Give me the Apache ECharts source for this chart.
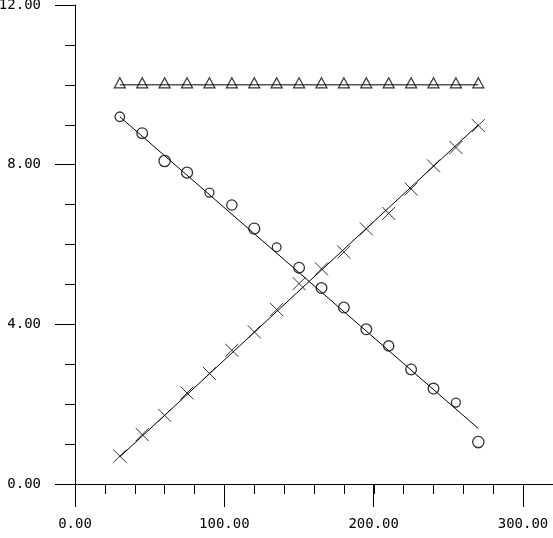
<!DOCTYPE html>
<html>
<head>
<meta charset="utf-8">
<script src="https://cdn.jsdelivr.net/npm/echarts@6/dist/echarts.min.js"></script>
<style>html,body{margin:0;padding:0;background:#fff;}#c{width:553px;height:538px;}</style>
</head>
<body>
<div id="c"></div>
<script>
const xValues = [30,45,60,75,90,105,120,135,150,165,180,195,210,225,240,255,270];
const triangleValues = [10,10,10,10,10,10,10,10,10,10,10,10,10,10,10,10,10];
const circleValues = [9.2,8.79,8.09,7.8,7.3,6.99,6.4,5.93,5.42,4.91,4.42,3.875,3.46,2.87,2.39,2.04,1.05];
const crossValues = [0.70,1.24,1.72,2.28,2.77,3.35,3.81,4.37,5.02,5.39,5.81,6.39,6.78,7.39,7.97,8.43,8.98];
const fitX = [30,270];
const triangleFit = [10,10];
const circleFit = [9.2,1.39];
const crossFit = [0.68,9.0];
const xTickLabels = [0,100,200,300];
const yTickLabels = [0,4,8,12];
const circleMarkerSizes = [9.5,10.7,11.3,11,9,10.3,11,8.7,10.7,10.7,10.7,10.7,10.3,10.7,10.7,9,11.3];

const pairs = (xs, ys) => xs.map((x,i)=>[x, ys[i]]);
const black = '#000';
const font = {fontFamily:'DejaVu Sans Mono', fontSize:14, color:black};
const chart = echarts.init(document.getElementById('c'), null, {renderer:'canvas'});
chart.setOption({
  animation:false,
  backgroundColor:'#fff',
  grid:[
    {left:75, right:0, top:5, bottom:54, containLabel:false, outerBoundsMode:'none'},
    {left:75, right:30, top:5, bottom:54, containLabel:false, outerBoundsMode:'none'}
  ],
  xAxis:[
    {type:'value', gridIndex:0, min:0, max:320, interval:20,
     axisLine:{show:true, onZero:false, lineStyle:{color:black, width:1}},
     axisTick:{show:true, length:10, lineStyle:{color:black, width:1}},
     axisLabel:{show:false}, splitLine:{show:false}},
    {type:'value', gridIndex:1, min:xTickLabels[0], max:xTickLabels[xTickLabels.length-1], interval:100,
     axisLine:{show:false},
     axisTick:{show:true, length:23, lineStyle:{color:black, width:1}},
     axisLabel:Object.assign({show:true, margin:33, formatter:v=>v.toFixed(2)}, font),
     splitLine:{show:false}}
  ],
  yAxis:[
    {type:'value', gridIndex:0, min:0, max:12, interval:1,
     axisLine:{show:true, onZero:false, lineStyle:{color:black, width:1}},
     axisTick:{show:true, length:10, lineStyle:{color:black, width:1}},
     axisLabel:{show:false}, splitLine:{show:false}},
    {type:'value', gridIndex:0, position:'left', min:yTickLabels[0], max:yTickLabels[yTickLabels.length-1], interval:4,
     axisLine:{show:false},
     axisTick:{show:true, length:20, lineStyle:{color:black, width:1}},
     axisLabel:Object.assign({show:true, margin:34, formatter:v=>v.toFixed(2)}, font),
     splitLine:{show:false}},
    {type:'value', gridIndex:1, min:0, max:12, show:false}
  ],
  series:[
    {type:'line', xAxisIndex:0, yAxisIndex:0, data:pairs(fitX, triangleFit), symbol:'none', lineStyle:{color:black, width:1}},
    {type:'line', xAxisIndex:0, yAxisIndex:0, data:pairs(fitX, circleFit), symbol:'none', lineStyle:{color:black, width:1}},
    {type:'line', xAxisIndex:0, yAxisIndex:0, data:pairs(fitX, crossFit), symbol:'none', lineStyle:{color:black, width:1}},
    {type:'scatter', xAxisIndex:0, yAxisIndex:0, data:pairs(xValues, triangleValues), symbol:'triangle', symbolSize:[11,10], symbolOffset:[0,-2],
     itemStyle:{color:'#fff', borderColor:black, borderWidth:1.2}},
    {type:'scatter', xAxisIndex:0, yAxisIndex:0,
     data:xValues.map((x,i)=>({value:[x, circleValues[i]], symbolSize:circleMarkerSizes[i]})),
     symbol:'circle', itemStyle:{color:'transparent', borderColor:black, borderWidth:1.3}},
    {type:'scatter', xAxisIndex:0, yAxisIndex:0, data:pairs(xValues, crossValues), symbol:'path://M0,0L10,10M10,0L0,10', symbolSize:13,
     itemStyle:{color:'transparent', borderColor:black, borderWidth:1}}
  ]
});
</script>
</body>
</html>
